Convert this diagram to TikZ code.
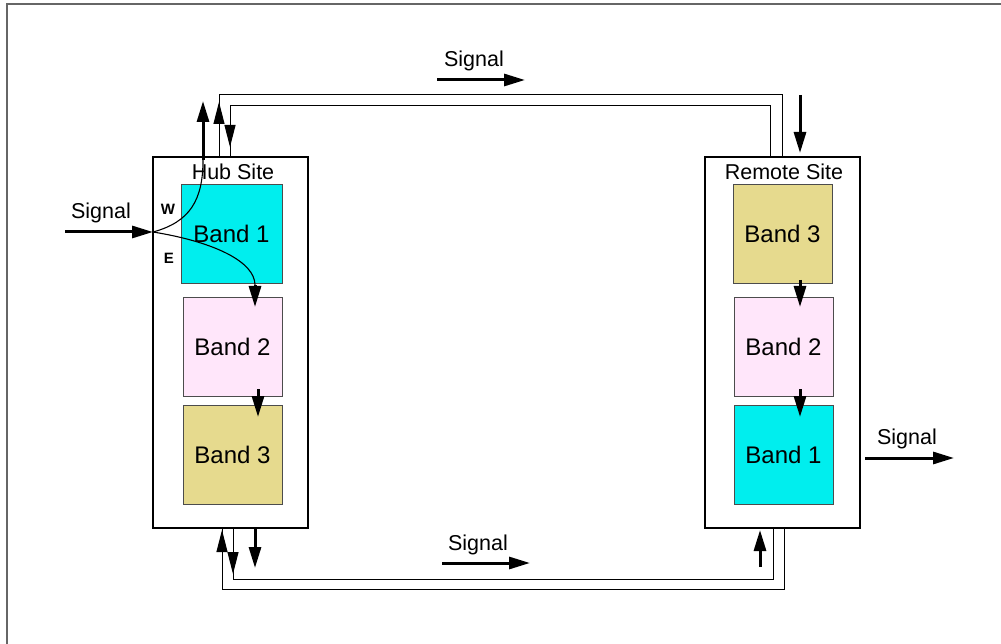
\documentclass[tikz,border=0pt]{standalone}
\usepackage{fontspec}
\setmainfont{Liberation Sans}
\usetikzlibrary{arrows.meta}
\definecolor{bandcyan}{RGB}{0,238,238}
\definecolor{bandpink}{RGB}{255,230,250}
\definecolor{bandkhaki}{RGB}{230,218,142}
\tikzset{
  band/.style={draw=black!70, line width=0.8pt, minimum width=99pt, minimum height=99pt, inner sep=0pt, font=\fontsize{24}{28}\selectfont},
  site/.style={draw, line width=2pt, minimum width=155pt, minimum height=371pt, inner sep=0pt},
  bigarrow/.style={line width=3pt, -{Triangle[length=21pt,width=12pt]}},
  ring/.style={line width=1pt},
  ringarrow/.style={line width=1pt, -{Triangle[length=22pt,width=11pt]}},
  curve/.style={line width=1.1pt},
  lbl/.style={font=\fontsize{21.5}{24}\selectfont, inner sep=0pt},
  dirlbl/.style={font=\bfseries\fontsize{15}{17}\selectfont, inner sep=0pt},
  frameline/.style={draw=black!60, line width=1.5pt}
}
\begin{document}
\begin{tikzpicture}[x=1pt, y=-1pt]
\useasboundingbox (0,0) rectangle (1001,644);
\draw[frameline] (7,644) -- (7,4) -- (1001,4);

% sites
\node[site] (hub) at (230.5,342.5) {};
\node[site] (rem) at (782.5,342.5) {};
\node[lbl] (hubt) at (233,172) {Hub Site};
\node[lbl] (remt) at (784,172) {Remote Site};

% hub bands
\node[band, fill=bandcyan, minimum width=101pt] (h1) at (231.5,233.5) {Band 1};
\node[band, fill=bandpink] (h2) at (232.5,346.5) {Band 2};
\node[band, fill=bandkhaki] (h3) at (232.5,454.5) {Band 3};
% remote bands
\node[band, fill=bandkhaki] (r3) at (782.5,233.5) {Band 3};
\node[band, fill=bandpink] (r2) at (783.5,346.5) {Band 2};
\node[band, fill=bandcyan] (r1) at (783.5,454.5) {Band 1};

% ring coordinates (top)
\coordinate (tOh) at (219,157);
\coordinate (tOhc) at (219,95);
\coordinate (tOrc) at (782,95);
\coordinate (tOr) at (782,157);
\coordinate (tIh) at (230,157);
\coordinate (tIhc) at (230,106);
\coordinate (tIrc) at (770,106);
\coordinate (tIr) at (770,157);
\draw[ring] (tOh) -- (tOhc) -- (tOrc) -- (tOr);
\draw[ring] (tIh) -- (tIhc) -- (tIrc) -- (tIr);
\coordinate (a1s) at (219,126);
\coordinate (a1e) at (219,102);
\draw[ringarrow] (a1s) -- (a1e);
\coordinate (a2s) at (230,124);
\coordinate (a2e) at (230,147);
\draw[ringarrow] (a2s) -- (a2e);

% ring coordinates (bottom)
\coordinate (bOh) at (222,529);
\coordinate (bOhc) at (222,589);
\coordinate (bOrc) at (784,589);
\coordinate (bOr) at (784,529);
\coordinate (bIh) at (233,527);
\coordinate (bIhc) at (233,579);
\coordinate (bIrc) at (773,579);
\coordinate (bIr) at (773,529);
\draw[ring] (bOh) -- (bOhc) -- (bOrc) -- (bOr);
\draw[ring] (bIh) -- (bIhc) -- (bIrc) -- (bIr);
\coordinate (a3s) at (222,553);
\coordinate (a3e) at (222,530);
\draw[ringarrow] (a3s) -- (a3e);
\coordinate (a4s) at (233,550);
\coordinate (a4e) at (233,574);
\draw[ringarrow] (a4s) -- (a4e);

% input signal and W/E split
\coordinate (inS) at (65,232);
\coordinate (split) at (153,232);
\draw[bigarrow] (inS) -- (split);
\node[lbl] (sigin) at (101,213) {Signal};
\node[dirlbl] (wl) at (168,209) {W};
\node[dirlbl] (el) at (169,258) {E};
\coordinate (wTop) at (203,160);
\coordinate (wTip) at (203,101);
\draw[curve] (split) .. controls (190,222) and (203,200) .. (wTop);
\draw[bigarrow] (wTop) -- (wTip);
\coordinate (eEnd) at (255,285);
\coordinate (eTip) at (255,307);
\draw[curve] (split) .. controls (215,242) and (255,262) .. (eEnd);
\draw[bigarrow] (eEnd) -- (eTip);

% hub internal
\coordinate (h23s) at (258,389);
\coordinate (h23e) at (258,417);
\draw[bigarrow] (h23s) -- (h23e);
\coordinate (hbs) at (255,529);
\coordinate (hbe) at (255,568);
\draw[bigarrow] (hbs) -- (hbe);

% remote
\coordinate (rts) at (800,95);
\coordinate (rte) at (800,153);
\draw[bigarrow] (rts) -- (rte);
\coordinate (r32s) at (800,280);
\coordinate (r32e) at (800,307);
\draw[bigarrow] (r32s) -- (r32e);
\coordinate (r21s) at (800,389);
\coordinate (r21e) at (800,417);
\draw[bigarrow] (r21s) -- (r21e);
\coordinate (rbs) at (760,567);
\coordinate (rbe) at (760,530);
\draw[bigarrow] (rbs) -- (rbe);

% output signal
\coordinate (outS) at (865,458);
\coordinate (outE) at (954,458);
\draw[bigarrow] (outS) -- (outE);
\node[lbl] (sigout) at (907,439) {Signal};

% top and bottom signal labels
\coordinate (topS) at (437,80);
\coordinate (topE) at (525,80);
\draw[bigarrow] (topS) -- (topE);
\node[lbl] (sigtop) at (474,61) {Signal};
\coordinate (botS) at (442,563);
\coordinate (botE) at (530,563);
\draw[bigarrow] (botS) -- (botE);
\node[lbl] (sigbot) at (478,545) {Signal};
\end{tikzpicture}
\end{document}
